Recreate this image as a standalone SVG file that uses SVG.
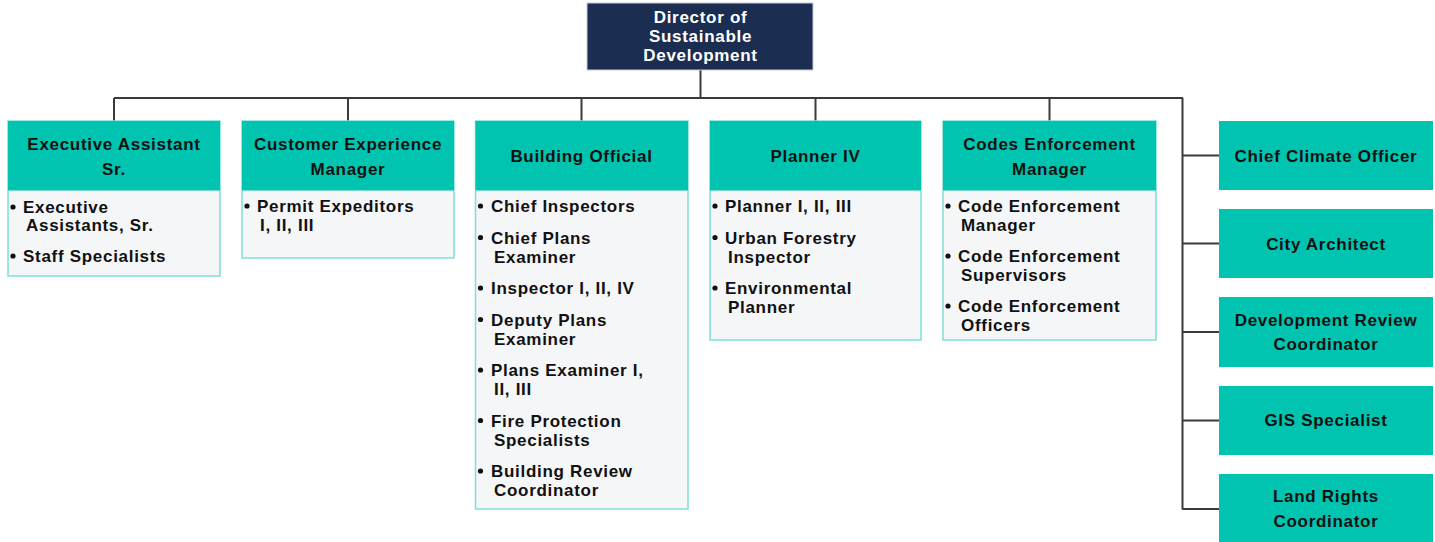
<svg xmlns="http://www.w3.org/2000/svg" width="1435" height="542" viewBox="0 0 1435 542">
<style>
text{font-family:"Liberation Sans",Arial,sans-serif;font-weight:700;font-size:17px;letter-spacing:0.7px;fill:#111}
.h{text-anchor:middle}
.w{fill:#fff}
.hd{fill:#00c4b0}
.bd{fill:#f5f6f8;stroke:#7fe0d4;stroke-width:1.5}
.bl{fill:#111}
.ln{stroke:#3a3a3a;stroke-width:2;fill:none}
</style>
<g id="connectors">
<path class="ln" d="M700.5 70 V98 M114 98 H1183 M114 98 V121 M348 98 V121 M581.5 98 V121 M815.5 98 V121 M1049.5 98 V121 M1182.5 98 V509.5 M1182.5 155.5 H1219 M1182.5 243.5 H1219 M1182.5 332 H1219 M1182.5 420.5 H1219 M1182.5 509 H1219"/>
</g>
<g id="director">
<rect x="587" y="3" width="226" height="67" fill="#1b2e51" stroke="#c8ccd4" stroke-width="1"/>
<text class="h w" x="700.5" y="23">Director of</text>
<text class="h w" x="700.5" y="42">Sustainable</text>
<text class="h w" x="700.5" y="61">Development</text>
</g>
<g id="exec">
<rect class="bd" x="8" y="121" width="212" height="155"/>
<rect class="hd" x="8" y="121" width="212" height="69.5"/>
<text class="h" x="114" y="150">Executive Assistant</text>
<text class="h" x="114" y="175">Sr.</text>
<circle class="bl" cx="13" cy="207" r="2.6"/>
<text x="23" y="213">Executive</text>
<text x="26" y="231">Assistants, Sr.</text>
<circle class="bl" cx="13" cy="256" r="2.6"/>
<text x="23" y="262">Staff Specialists</text>
</g>
<g id="customer">
<rect class="bd" x="242" y="121" width="212" height="137"/>
<rect class="hd" x="242" y="121" width="212" height="69.5"/>
<text class="h" x="348" y="150">Customer Experience</text>
<text class="h" x="348" y="175">Manager</text>
<circle class="bl" cx="247" cy="206" r="2.6"/>
<text x="257" y="212">Permit Expeditors</text>
<text x="260" y="231">I, II, III</text>
</g>
<g id="building">
<rect class="bd" x="475.5" y="121" width="212.5" height="388"/>
<rect class="hd" x="475.5" y="121" width="212.5" height="69.5"/>
<text class="h" x="581.5" y="162">Building Official</text>
<circle class="bl" cx="480.5" cy="206" r="2.6"/>
<text x="491" y="212">Chief Inspectors</text>
<circle class="bl" cx="480.5" cy="237.5" r="2.6"/>
<text x="491" y="243.5">Chief Plans</text>
<text x="494" y="262.5">Examiner</text>
<circle class="bl" cx="480.5" cy="288" r="2.6"/>
<text x="491" y="294">Inspector I, II, IV</text>
<circle class="bl" cx="480.5" cy="319.5" r="2.6"/>
<text x="491" y="325.5">Deputy Plans</text>
<text x="494" y="344.5">Examiner</text>
<circle class="bl" cx="480.5" cy="370" r="2.6"/>
<text x="491" y="376">Plans Examiner I,</text>
<text x="494" y="395">II, III</text>
<circle class="bl" cx="480.5" cy="420.5" r="2.6"/>
<text x="491" y="426.5">Fire Protection</text>
<text x="494" y="445.5">Specialists</text>
<circle class="bl" cx="480.5" cy="471" r="2.6"/>
<text x="491" y="477">Building Review</text>
<text x="494" y="496">Coordinator</text>
</g>
<g id="planner">
<rect class="bd" x="710" y="121" width="211" height="219"/>
<rect class="hd" x="710" y="121" width="211" height="69.5"/>
<text class="h" x="815.5" y="162">Planner IV</text>
<circle class="bl" cx="715" cy="206" r="2.6"/>
<text x="725" y="212">Planner I, II, III</text>
<circle class="bl" cx="715" cy="237.5" r="2.6"/>
<text x="725" y="243.5">Urban Forestry</text>
<text x="728" y="262.5">Inspector</text>
<circle class="bl" cx="715" cy="288" r="2.6"/>
<text x="725" y="294">Environmental</text>
<text x="728" y="313">Planner</text>
</g>
<g id="codes">
<rect class="bd" x="943" y="121" width="213" height="219"/>
<rect class="hd" x="943" y="121" width="213" height="69.5"/>
<text class="h" x="1049.5" y="150">Codes Enforcement</text>
<text class="h" x="1049.5" y="175">Manager</text>
<circle class="bl" cx="948" cy="206" r="2.6"/>
<text x="958" y="212">Code Enforcement</text>
<text x="961" y="231">Manager</text>
<circle class="bl" cx="948" cy="256" r="2.6"/>
<text x="958" y="262">Code Enforcement</text>
<text x="961" y="281">Supervisors</text>
<circle class="bl" cx="948" cy="306" r="2.6"/>
<text x="958" y="312">Code Enforcement</text>
<text x="961" y="331">Officers</text>
</g>
<g id="climate">
<rect class="hd" x="1219" y="121" width="214" height="69"/>
<text class="h" x="1326" y="162">Chief Climate Officer</text>
</g>
<g id="architect">
<rect class="hd" x="1219" y="209" width="214" height="69"/>
<text class="h" x="1326" y="250">City Architect</text>
</g>
<g id="devreview">
<rect class="hd" x="1219" y="297" width="214" height="70"/>
<text class="h" x="1326" y="326">Development Review</text>
<text class="h" x="1326" y="350">Coordinator</text>
</g>
<g id="gis">
<rect class="hd" x="1219" y="386" width="214" height="69"/>
<text class="h" x="1326" y="426">GIS Specialist</text>
</g>
<g id="landrights">
<rect class="hd" x="1219" y="474" width="214" height="70"/>
<text class="h" x="1326" y="502">Land Rights</text>
<text class="h" x="1326" y="527">Coordinator</text>
</g>
</svg>
